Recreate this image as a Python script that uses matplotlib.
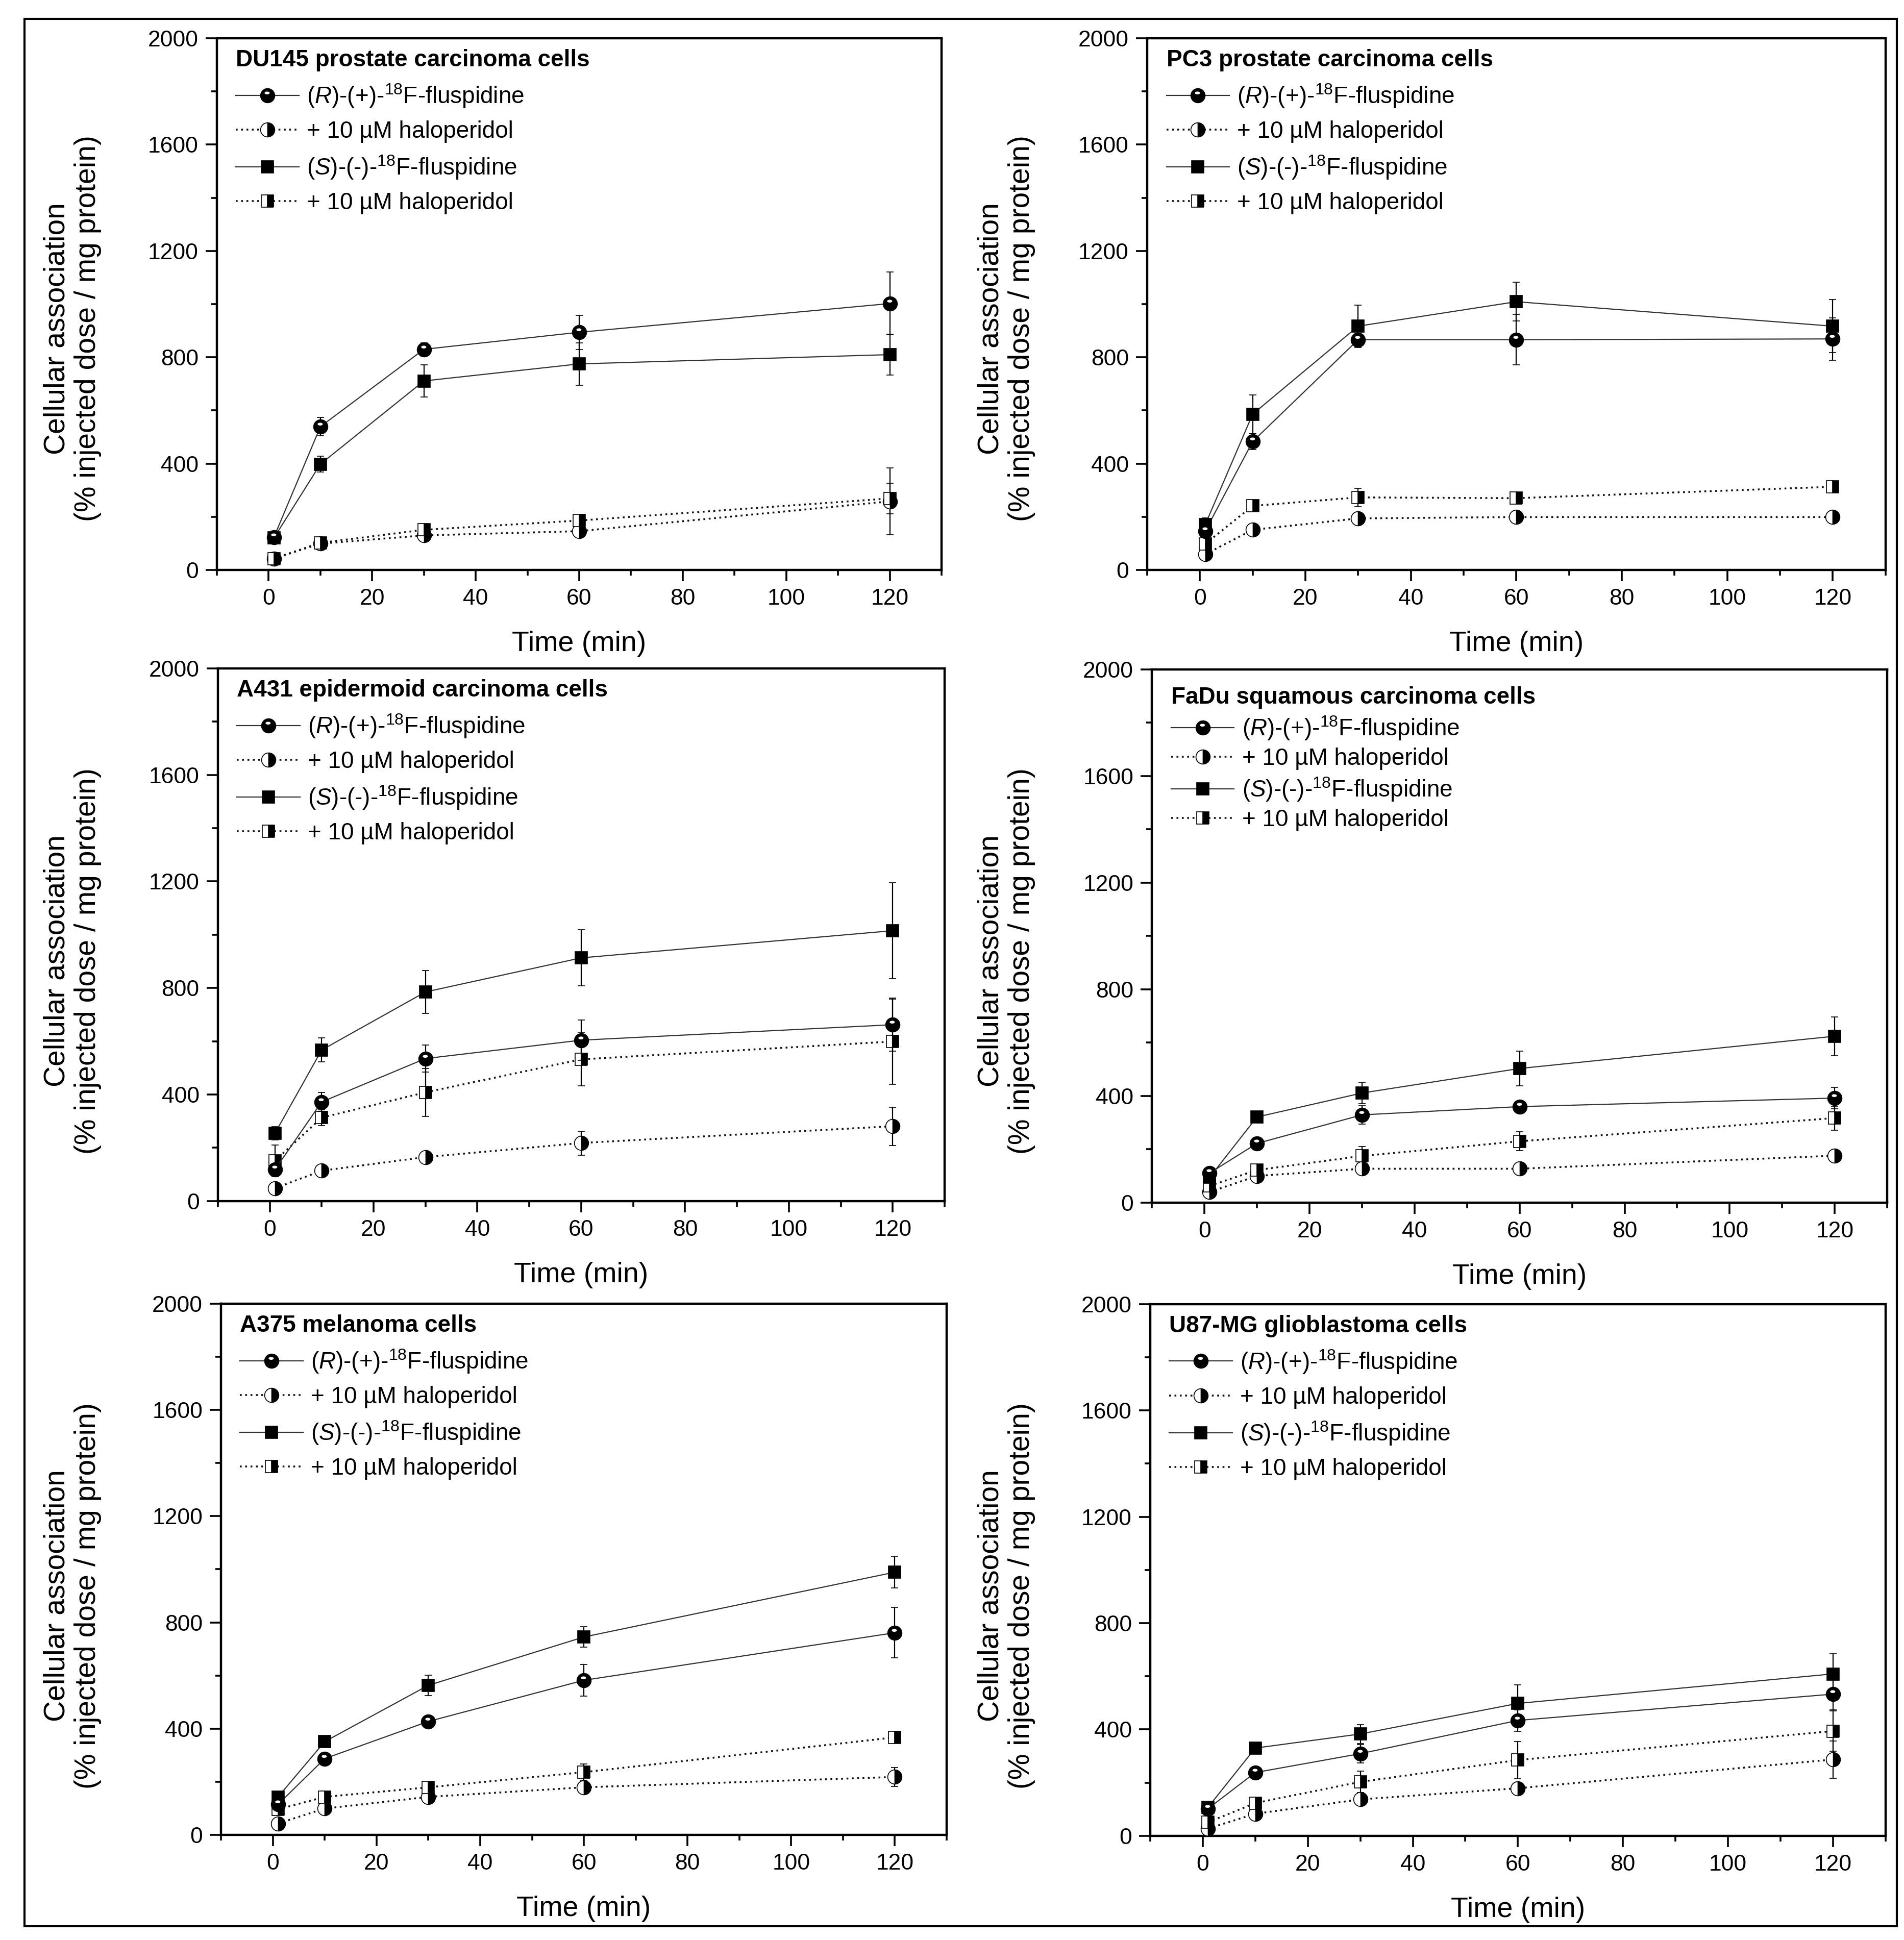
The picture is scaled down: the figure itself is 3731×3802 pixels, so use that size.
import numpy as np
import matplotlib
matplotlib.use("Agg")
import matplotlib.pyplot as plt
from matplotlib.path import Path
from matplotlib.patches import Rectangle

plt.rcParams['font.family'] = ['Liberation Sans', 'DejaVu Sans']
plt.rcParams['mathtext.fontset'] = 'custom'
plt.rcParams['mathtext.rm'] = 'Liberation Sans'
plt.rcParams['mathtext.it'] = 'Liberation Sans:italic'
plt.rcParams['mathtext.bf'] = 'Liberation Sans:bold'

# ---------------- data ----------------
time_min = [1, 10, 30, 60, 120]

series_labels = [r"($\mathit{R}$)-(+)-$^{18}$F-fluspidine",
                 "+ 10 µM haloperidol",
                 r"($\mathit{S}$)-(-)-$^{18}$F-fluspidine",
                 "+ 10 µM haloperidol"]

panel_titles = ["DU145 prostate carcinoma cells",
                "PC3 prostate carcinoma cells",
                "A431 epidermoid carcinoma cells",
                "FaDu squamous carcinoma cells",
                "A375 melanoma cells",
                "U87-MG glioblastoma cells"]

x_ticks = [0, 20, 40, 60, 80, 100, 120]
y_ticks = [0, 400, 800, 1200, 1600, 2000]

du145_r = [122, 539, 830, 894, 1002]
du145_r_err = [15, 35, 25, 64, 118]
du145_r_halo = [43, 99, 130, 146, 258]
du145_r_halo_err = [10, 10, 15, 20, 125]
du145_s = [120, 398, 711, 775, 810]
du145_s_err = [15, 30, 60, 80, 76]
du145_s_halo = [43, 102, 151, 186, 269]
du145_s_halo_err = [10, 15, 15, 20, 58]

pc3_r = [146, 483, 866, 866, 869]
pc3_r_err = [20, 30, 25, 95, 80]
pc3_r_halo = [59, 151, 194, 199, 199]
pc3_r_halo_err = [10, 15, 15, 15, 15]
pc3_s = [170, 586, 917, 1009, 917]
pc3_s_err = [25, 73, 80, 73, 100]
pc3_s_halo = [98, 241, 273, 270, 313]
pc3_s_halo_err = [15, 20, 35, 20, 20]

a431_r = [118, 372, 535, 604, 662]
a431_r_err = [20, 35, 50, 75, 100]
a431_r_halo = [48, 114, 165, 218, 281]
a431_r_halo_err = [10, 15, 20, 45, 72]
a431_s = [254, 567, 785, 913, 1015]
a431_s_err = [25, 45, 80, 105, 180]
a431_s_halo = [151, 313, 408, 532, 599]
a431_s_halo_err = [60, 30, 90, 100, 160]

fadu_r = [111, 222, 329, 360, 392]
fadu_r_err = [10, 15, 35, 15, 40]
fadu_r_halo = [40, 100, 127, 127, 176]
fadu_r_halo_err = [10, 10, 10, 10, 10]
fadu_s = [95, 321, 411, 503, 624]
fadu_s_err = [10, 15, 40, 65, 73]
fadu_s_halo = [63, 122, 175, 230, 317]
fadu_s_halo_err = [10, 15, 35, 35, 45]

a375_r = [115, 287, 427, 582, 761]
a375_r_err = [10, 20, 15, 60, 95]
a375_r_halo = [43, 99, 143, 179, 218]
a375_r_halo_err = [10, 10, 10, 15, 35]
a375_s = [143, 351, 563, 745, 989]
a375_s_err = [15, 20, 38, 38, 60]
a375_s_halo = [96, 143, 179, 236, 367]
a375_s_halo_err = [10, 15, 15, 30, 20]

u87_r = [102, 238, 309, 434, 533]
u87_r_err = [10, 15, 35, 40, 60]
u87_r_halo = [27, 83, 137, 179, 287]
u87_r_halo_err = [10, 10, 15, 15, 70]
u87_s = [107, 330, 383, 498, 609]
u87_s_err = [10, 15, 35, 70, 75]
u87_s_halo = [51, 123, 203, 285, 394]
u87_s_halo_err = [10, 15, 40, 70, 75]

panel_data = [
    (du145_r, du145_r_err, du145_r_halo, du145_r_halo_err, du145_s, du145_s_err, du145_s_halo, du145_s_halo_err),
    (pc3_r, pc3_r_err, pc3_r_halo, pc3_r_halo_err, pc3_s, pc3_s_err, pc3_s_halo, pc3_s_halo_err),
    (a431_r, a431_r_err, a431_r_halo, a431_r_halo_err, a431_s, a431_s_err, a431_s_halo, a431_s_halo_err),
    (fadu_r, fadu_r_err, fadu_r_halo, fadu_r_halo_err, fadu_s, fadu_s_err, fadu_s_halo, fadu_s_halo_err),
    (a375_r, a375_r_err, a375_r_halo, a375_r_halo_err, a375_s, a375_s_err, a375_s_halo, a375_s_halo_err),
    (u87_r, u87_r_err, u87_r_halo, u87_r_halo_err, u87_s, u87_s_err, u87_s_halo, u87_s_halo_err),
]

# ---------------- layout ----------------
W, H = 3731, 3802
fig = plt.figure(figsize=(W / 100, H / 100), dpi=100)

axes_rects = [
    [0.1139, 0.7062, 0.3806, 0.2741],
    [0.6025, 0.7062, 0.3878, 0.2741],
    [0.1144, 0.3809, 0.3817, 0.2746],
    [0.6050, 0.3801, 0.3862, 0.2749],
    [0.1161, 0.0542, 0.3811, 0.2738],
    [0.6041, 0.0537, 0.3862, 0.2741],
]
ylabel_pos = [(0.038, 0.8306), (0.5285, 0.8306),
              (0.038, 0.5047), (0.5285, 0.5047),
              (0.038, 0.1775), (0.5285, 0.1775)]
legend_spacing = [0.46, 0.46, 0.46, 0.24, 0.46, 0.46]
legend_anchor_y = [0.980, 0.980, 0.980, 0.968, 0.980, 0.980]

# small white glint on the (R) sphere markers
th = np.linspace(0, 2 * np.pi, 41)
ell = np.column_stack([-0.08 + 0.36 * np.cos(th), 0.38 + 0.20 * np.sin(th)])
hl_verts = np.vstack([[[0.0, -1.0]], ell])
hl_codes = [Path.MOVETO, Path.MOVETO] + [Path.LINETO] * (len(ell) - 2) + [Path.CLOSEPOLY]
glint = Path(hl_verts, hl_codes)

LINE_C = '#333333'
dotted = (0, (1.0, 1.9))
MS_C = 20
MS_S = 17
FS_TICK = 32
FS_LEG = 33

for i, rect in enumerate(axes_rects):
    ax = fig.add_axes(rect)
    r, re_, rh, rhe, s, se, sh, she = panel_data[i]
    common = dict(ecolor='black', elinewidth=1.6, capsize=5, capthick=1.6, mec='black', mew=1.2)

    e_r = ax.errorbar(time_min, r, yerr=re_, color=LINE_C, lw=1.6, ls='-',
                      marker='o', ms=MS_C, mfc='black', zorder=4, **common)
    e_rh = ax.errorbar(time_min, rh, yerr=rhe, color='#111111', lw=2.6, ls=dotted,
                       marker='o', ms=MS_C, mfc='black', fillstyle='right',
                       mfcalt='white', zorder=3, **common)
    e_s = ax.errorbar(time_min, s, yerr=se, color=LINE_C, lw=1.6, ls='-',
                      marker='s', ms=MS_S, mfc='black', zorder=4, **common)
    e_sh = ax.errorbar(time_min, sh, yerr=she, color='#111111', lw=2.6, ls=dotted,
                       marker='s', ms=MS_S, mfc='black', fillstyle='right',
                       mfcalt='white', zorder=3, **common)
    hl, = ax.plot(time_min, r, ls='none', marker=glint, ms=MS_C, mfc='white',
                  mec='none', mew=0, zorder=5)

    ax.set_xlim(-10, 130)
    ax.set_ylim(0, 2000)
    ax.set_xticks(x_ticks)
    ax.set_xticks(np.arange(-10, 131, 10), minor=True)
    ax.set_yticks(y_ticks)
    ax.set_yticks(np.arange(0, 2001, 200), minor=True)
    ax.tick_params(which='both', direction='out', top=False, right=False, width=2.6,
                   labelsize=FS_TICK)
    ax.tick_params(which='major', length=16, pad=10)
    ax.tick_params(which='minor', length=8)
    for sp in ax.spines.values():
        sp.set_linewidth(3.2)

    ax.set_xlabel("Time (min)", fontsize=40, labelpad=30)
    fig.text(ylabel_pos[i][0], ylabel_pos[i][1],
             "Cellular association\n(% injected dose / mg protein)",
             rotation=90, ha='center', va='center', multialignment='center',
             fontsize=41, linespacing=1.15)

    handles = [(e_r.lines[0], hl), e_rh.lines[0], e_s.lines[0], e_sh.lines[0]]
    ax.legend(handles, series_labels, title=panel_titles[i],
              title_fontproperties={'weight': 'bold', 'size': FS_LEG},
              loc='upper left', bbox_to_anchor=(0.026, legend_anchor_y[i]),
              frameon=False, alignment='left', handlelength=2.7,
              handletextpad=0.33, labelspacing=legend_spacing[i],
              borderpad=0, borderaxespad=0, numpoints=1, fontsize=FS_LEG)

# outer frame
fig.add_artist(Rectangle((48 / W, 1 - 3775 / H), (3717 - 48) / W, (3775 - 37) / H,
                         transform=fig.transFigure, fill=False, lw=3, ec='black'))

fig.savefig("out.png", dpi=100)
